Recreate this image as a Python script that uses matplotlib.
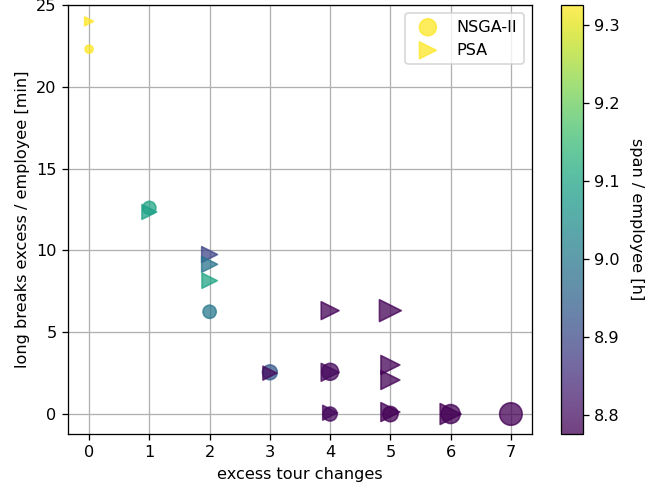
import matplotlib
matplotlib.use("Agg")
import matplotlib.pyplot as plt
import numpy as np

# NSGA-II solutions
nsga_changes = [0, 1, 2, 3, 4, 4, 5, 6, 7]
nsga_breaks = [22.3, 12.6, 6.25, 2.55, 2.58, 0.0, 0.0, 0.0, 0.0]
nsga_span = [9.326, 9.10, 9.00, 8.93, 8.79, 8.79, 8.78, 8.78, 8.776]
nsga_size = [25, 67, 67, 85, 110, 75, 90, 138, 195]

# PSA solutions
psa_changes = [0, 1, 2, 2, 2, 3, 4, 4, 4, 5, 5, 5, 5, 6]
psa_breaks = [24.0, 12.35, 9.75, 9.15, 8.15, 2.5, 6.32, 2.55, 0.08, 6.32, 3.0, 2.08, 0.12, 0.0]
psa_span = [9.326, 9.09, 8.89, 8.99, 9.10, 8.79, 8.78, 8.79, 8.79, 8.78, 8.78, 8.78, 8.78, 8.776]
psa_size = [31, 85, 97, 97, 90, 75, 123, 123, 85, 185, 138, 138, 138, 170]

vmin, vmax = 8.776, 9.326

DPI = 116
fig = plt.figure(figsize=(668 / DPI, 490 / DPI), dpi=DPI)
ax = fig.add_axes([68/668, 56/490, 464/668, 429/490])
cax = fig.add_axes([561/668, 56/490, 22/668, 429/490])

sc1 = ax.scatter(nsga_changes, nsga_breaks, c=nsga_span, s=nsga_size, marker='o',
                 cmap='viridis', vmin=vmin, vmax=vmax, alpha=0.75, label='NSGA-II', zorder=3)
sc2 = ax.scatter(psa_changes, psa_breaks, c=psa_span, s=psa_size, marker='>',
                 cmap='viridis', vmin=vmin, vmax=vmax, alpha=0.75, label='PSA', zorder=3)

ax.set_xlim(-0.35, 7.35)
ax.set_ylim(-1.22, 25.0)
ax.set_xticks(range(0, 8))
ax.set_yticks([0, 5, 10, 15, 20, 25])
ax.grid(True, color='#b0b0b0', linewidth=0.8)
ax.set_axisbelow(True)
ax.set_xlabel('excess tour changes')
ax.set_ylabel('long breaks excess / employee [min]')
ax.legend(loc='upper right')

cb = fig.colorbar(sc1, cax=cax)
cb.set_ticks([8.8, 8.9, 9.0, 9.1, 9.2, 9.3])
cb.set_label('span / employee [h]', rotation=270, labelpad=15)

fig.savefig('out.png', dpi=DPI)
